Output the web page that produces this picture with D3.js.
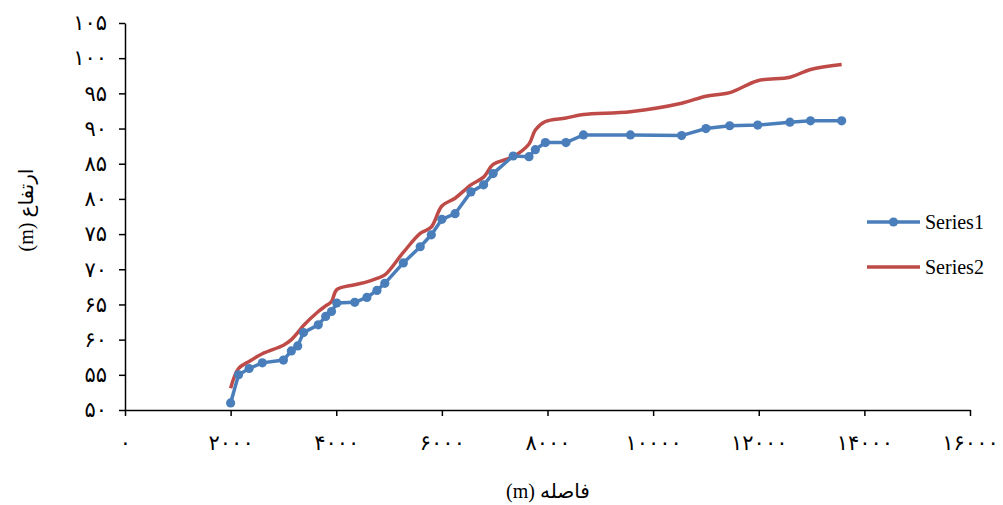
<!DOCTYPE html>
<html><head><meta charset="utf-8">
<script src="https://cdn.jsdelivr.net/npm/d3@7"></script>
<style>body{margin:0;background:#fff}svg{display:block}</style>
</head><body>
<svg id="c" width="1003" height="505"></svg>
<script>
const distances = [2000,2150,2350,2600,3000,3150,3270,3380,3660,3800,3910,4010,4350,4580,4770,4920,5270,5590,5800,6000,6250,6550,6790,6970,7350,7650,7770,7960,8350,8680,9570,10540,11000,11450,11980,12590,12980,13570];
const series1 = [51.0,55.0,55.9,56.7,57.1,58.4,59.1,61.0,62.1,63.3,64.0,65.2,65.3,66.0,67.0,68.0,70.9,73.2,74.9,77.1,77.9,81.0,82.0,83.6,86.1,86.0,87.0,88.0,88.0,89.1,89.1,89.0,90.0,90.4,90.5,90.9,91.1,91.1];
const series2 = [53.1,55.9,56.9,58.0,59.2,60.0,61.0,62.0,64.0,64.8,65.4,67.1,67.8,68.2,68.7,69.2,72.4,75.1,76.0,79.0,80.1,82.0,83.1,84.9,86.0,87.8,89.8,91.0,91.5,92.0,92.4,93.6,94.6,95.1,96.8,97.3,98.4,99.1];
const xTicks = [0,2000,4000,6000,8000,10000,12000,14000,16000];
const yTicks = [50,55,60,65,70,75,80,85,90,95,100,105];
const seriesNames = ["Series1","Series2"];
const xTitle = "(m) فاصله";
const yTitle = "(m) ارتفاع";

const fa = v => String(v).replace(/\d/g, d => "۰۱۲۳۴۵۶۷۸۹"[d]);
const svg = d3.select("#c");
const x = d3.scaleLinear().domain([0,16000]).range([125,970]);
const y = d3.scaleLinear().domain([50,105]).range([410,23]);
const blue = "#4a7ebb", red = "#be4b48";
const numFont = "'DejaVu Sans', 'Liberation Serif', serif";
const titleFont = "'Liberation Serif', 'DejaVu Sans', serif";

const gx = svg.append("g").attr("transform","translate(0,410)")
  .call(d3.axisBottom(x).tickValues(xTicks).tickSize(6).tickSizeOuter(0).tickPadding(19).tickFormat(fa));
const gy = svg.append("g").attr("transform","translate(125,0)")
  .call(d3.axisLeft(y).tickValues(yTicks).tickSize(6).tickSizeOuter(0).tickPadding(12).tickFormat(fa));
[gx,gy].forEach(g=>{
  g.selectAll("path,line").attr("stroke","#000").attr("stroke-width",1.5);
  g.selectAll("text").attr("font-family",numFont).attr("font-size",21).attr("fill","#000");
});

const data1 = distances.map((d,i)=>[d,series1[i]]);
const data2 = distances.map((d,i)=>[d,series2[i]]);
svg.append("path").datum(data2).attr("fill","none").attr("stroke",red).attr("stroke-width",3.5)
  .attr("d", d3.line().x(d=>x(d[0])).y(d=>y(d[1])).curve(d3.curveCatmullRom));
svg.append("path").datum(data1).attr("fill","none").attr("stroke",blue).attr("stroke-width",3.5)
  .attr("d", d3.line().x(d=>x(d[0])).y(d=>y(d[1])));
svg.append("g").selectAll("circle").data(data1).join("circle")
  .attr("cx",d=>x(d[0])).attr("cy",d=>y(d[1])).attr("r",4.6).attr("fill",blue);

// legend
const lg = svg.append("g");
[0,1].forEach(i=>{
  const yy = 222 + i*45;
  lg.append("line").attr("x1",867).attr("x2",920).attr("y1",yy).attr("y2",yy)
    .attr("stroke", i?red:blue).attr("stroke-width",3.5);
  if(!i) lg.append("circle").attr("cx",893.5).attr("cy",yy).attr("r",4.6).attr("fill",blue);
  lg.append("text").attr("x",925).attr("y",yy+7).text(seriesNames[i])
    .attr("font-family","'Liberation Serif', serif").attr("font-size",20).attr("fill","#000");
});

svg.append("text").attr("x",548).attr("y",498).attr("text-anchor","middle")
  .attr("font-family",titleFont).attr("font-size",20).text(xTitle);
svg.append("text").attr("transform","translate(33,210) rotate(-90)").attr("text-anchor","middle")
  .attr("font-family",titleFont).attr("font-size",20).text(yTitle);
</script>
</body></html>
